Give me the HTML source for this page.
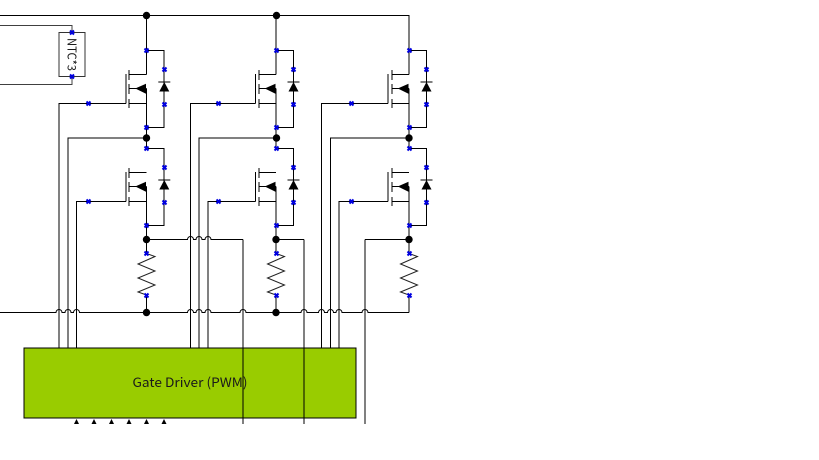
<!DOCTYPE html>
<html><head><meta charset="utf-8">
<style>
html,body{margin:0;padding:0;background:#fff;width:819px;height:460px;overflow:hidden}
svg{display:block}
text{font-family:"Noto Sans CJK JP","Liberation Sans",sans-serif;fill:#1a1a1a}
</style></head><body>
<svg width="819" height="460" viewBox="0 0 819 460" xmlns="http://www.w3.org/2000/svg">
<defs>
<g id="x"><path d="M-2-2L2 2M2-2L-2 2" stroke="#0000e0" stroke-width="2" fill="none"/></g>
<!-- MOSFET column 1: origin at (146.5, tap y) -->
<g id="m1" fill="none" stroke="#000" stroke-width="1">
<path d="M-17.500 20V30M-17.500 34V44M-17.500 49V58M-20.500 24V53.500"/>
<path d="M-17.500 24.500H0M-17.500 38.500H0M-17.500 53.500H0"/>
<path d="M-10 38.500L-1 34.500V43Z" fill="#000"/>
</g>
<!-- column 2: origin at (276, tap y) -->
<g id="m2" fill="none" stroke="#000" stroke-width="1">
<path d="M-17 20V30M-17 34V44M-17 49V58M-20.500 24V53.500"/>
<path d="M-17 24.500H0M-17 38.500H0M-17 53.500H0"/>
<path d="M-10 38.500L-1 34.500V43Z" fill="#000"/>
</g>
<!-- column 3: origin at (409, tap y) -->
<g id="m3" fill="none" stroke="#000" stroke-width="1">
<path d="M-17 20V30M-17 34V44M-17 49V58M-21 24V53.500"/>
<path d="M-17 24.500H0M-17 38.500H0M-17 53.500H0"/>
<path d="M-10 38.500L-1 34.500V43Z" fill="#000"/>
</g>
<g id="d">
<path d="M-5 9.500H5L0 0Z" fill="#000"/>
<path d="M-6 0H6" stroke="#000" stroke-width="1"/>
</g>
<path id="a" d="M-2.500 0L0-5L2.500 0Z" fill="#000"/>
</defs>

<g fill="none" stroke="#000" stroke-width="1">
<!-- top wires / NTC -->
<path d="M0 15.500H409"/>
<path d="M0 25.500H72V33M0 84.500H72V77" stroke-opacity=".75"/>
<rect x="59" y="32.500" width="26" height="44" fill="#fff" stroke-opacity=".8"/>

<!-- drain rails -->
<path d="M146.500 15V74.500M146.500 88.500V148M146.500 186.500V253.500M146.500 295V312"/>
<path d="M276 15V74.500M276 88.500V148M276 186.500V253.500M276 295V312"/>
<path d="M409 15V74.500M409 88.500V148M409 186.500V253.500M409 295V312.500"/>

<!-- diode loops -->
<path d="M146.500 50.500H164V127.500H146.500M146.500 148.500H164V225.500H146.500"/>
<path d="M276 50.500H293.500V127.500H276M276 148.500H293.500V225.500H276"/>
<path d="M409 50.500H426.500V127.500H409M409 148.500H426.500V225.500H409"/>

<!-- gate and mid wires -->
<path d="M59 348V103.500H126M76.500 348V201.500H126"/>
<path d="M68 348V138H146"/>
<path d="M190.500 348V103.500H255.500M208 348V201.500H255.500"/>
<path d="M199 348V138H276"/>
<path d="M321.500 348V103.500H388M339 348V201.500H388"/>
<path d="M330.500 348V138H409"/>

<!-- horizontal with jumps -->
<path d="M0 312.500H56a3 3 0 0 1 6 0h3a3 3 0 0 1 6 0h2.500a3 3 0 0 1 6 0H187.500a3 3 0 0 1 6 0h2.500a3 3 0 0 1 6 0h3a3 3 0 0 1 6 0H240a3 3 0 0 1 6 0H301a3 3 0 0 1 6 0H318.500a3 3 0 0 1 6 0h3a3 3 0 0 1 6 0h2.500a3 3 0 0 1 6 0H362a3 3 0 0 1 6 0H409"/>
<path d="M146.500 239.500H187.500a3 3 0 0 1 6 0h2.500a3 3 0 0 1 6 0h3a3 3 0 0 1 6 0H243"/>
<path d="M276 239.500H304M409 239.500H365"/>
</g>

<!-- MOSFETs -->
<use href="#m1" x="146.500" y="50"/><use href="#m1" x="146.500" y="148"/>
<use href="#m2" x="276" y="50"/><use href="#m2" x="276" y="148"/>
<use href="#m3" x="409" y="50"/><use href="#m3" x="409" y="148"/>

<!-- diodes -->
<use href="#d" x="164.300" y="82"/><use href="#d" x="164.300" y="180"/>
<use href="#d" x="293.500" y="82"/><use href="#d" x="293.500" y="180"/>
<use href="#d" x="426.500" y="82"/><use href="#d" x="426.500" y="180"/>

<!-- resistors -->
<g fill="none" stroke="#222" stroke-width="1">
<path d="M146.500 253.500L155 256.500L138 264L155 271L138 278L155 285L138 292L146.500 295"/>
<path d="M276 253.500L284.500 256.500L267.500 264L284.500 271L267.500 278L284.500 285L267.500 292L276 295"/>
<path d="M409 253.500L417.500 256.500L400.500 264L417.500 271L400.500 278L417.500 285L400.500 292L409 295"/>
</g>

<!-- nodes -->
<g fill="#000">
<circle cx="146.500" cy="15.500" r="3.700"/><circle cx="276.500" cy="15.500" r="3.700"/>
<circle cx="146.500" cy="138" r="3.700"/><circle cx="276.500" cy="138" r="3.700"/><circle cx="409" cy="138" r="3.700"/>
<circle cx="146.500" cy="239.500" r="3.700"/><circle cx="276" cy="239.500" r="3.700"/><circle cx="409" cy="239.500" r="3.700"/>
<circle cx="146.500" cy="312.500" r="3.700"/><circle cx="276" cy="312.500" r="3.700"/>
</g>

<!-- Gate driver -->
<rect x="24" y="348" width="332" height="70" fill="#99cc00" stroke="#000" stroke-width="1"/>
<text x="190" y="387" font-size="13" text-anchor="middle" textLength="115" lengthAdjust="spacingAndGlyphs">Gate Driver (PWM)</text>
<path d="M243 239.500V424M304 239.500V424M365 239.500V424" fill="none" stroke="#000" stroke-width="1"/>
<use href="#a" x="76.500" y="424"/><use href="#a" x="94" y="424"/><use href="#a" x="111.500" y="424"/>
<use href="#a" x="129" y="424"/><use href="#a" x="146.500" y="424"/><use href="#a" x="164" y="424"/>

<text transform="translate(67.500,54.500) rotate(90)" font-size="12" text-anchor="middle" textLength="33" lengthAdjust="spacingAndGlyphs">NTC*3</text>

<!-- blue markers -->
<use href="#x" x="72" y="32.500"/><use href="#x" x="72" y="76.500"/>
<use href="#x" x="146.500" y="50.500"/><use href="#x" x="164.500" y="69.500"/><use href="#x" x="164.500" y="104.500"/><use href="#x" x="146.500" y="127.500"/><use href="#x" x="88.500" y="103.500"/>
<use href="#x" x="146.500" y="148.500"/><use href="#x" x="164.500" y="167.500"/><use href="#x" x="164.500" y="202.500"/><use href="#x" x="146.500" y="225.500"/><use href="#x" x="88.500" y="201.500"/>
<use href="#x" x="146.500" y="253.500"/><use href="#x" x="146.500" y="295.500"/>
<use href="#x" x="276.500" y="50.500"/><use href="#x" x="293.500" y="69.500"/><use href="#x" x="293.500" y="104.500"/><use href="#x" x="276.500" y="127.500"/><use href="#x" x="218.500" y="103.500"/>
<use href="#x" x="276.500" y="148.500"/><use href="#x" x="293.500" y="167.500"/><use href="#x" x="293.500" y="202.500"/><use href="#x" x="276.500" y="225.500"/><use href="#x" x="218.500" y="201.500"/>
<use href="#x" x="276.500" y="253.500"/><use href="#x" x="276.500" y="295.500"/>
<use href="#x" x="409.500" y="50.500"/><use href="#x" x="426.500" y="69.500"/><use href="#x" x="426.500" y="104.500"/><use href="#x" x="409.500" y="127.500"/><use href="#x" x="351.500" y="103.500"/>
<use href="#x" x="409.500" y="148.500"/><use href="#x" x="426.500" y="167.500"/><use href="#x" x="426.500" y="202.500"/><use href="#x" x="409.500" y="225.500"/><use href="#x" x="351.500" y="201.500"/>
<use href="#x" x="409.500" y="253.500"/><use href="#x" x="409.500" y="295.500"/>
</svg>
</body></html>
